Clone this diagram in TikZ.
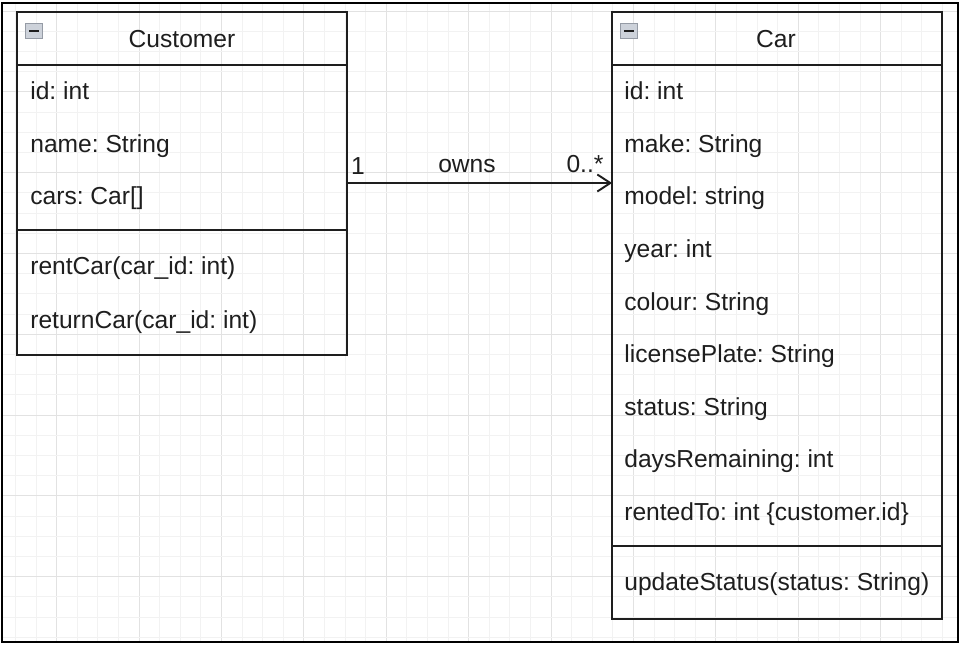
\documentclass[tikz,border=0pt]{standalone}
\usepackage{fontspec}
\setmainfont{Liberation Sans}
\usetikzlibrary{arrows.meta, positioning}
\frenchspacing

\definecolor{gridminor}{HTML}{F2F2F2}
\definecolor{gridmajor}{HTML}{E2E2E2}
\definecolor{ink}{HTML}{1E1E1E}
\definecolor{iconfill}{HTML}{CDD2DA}
\definecolor{iconline}{HTML}{959BA5}

\begin{document}
\begin{tikzpicture}[
        x=0.02cm, y=-0.02cm,
        box/.style={draw=ink, line width=2pt*0.57, inner sep=0pt, outer sep=0pt, minimum width=6.594cm},
        ttl/.style={anchor=base, font=\fontsize{14}{16}\selectfont, text=ink, inner sep=0pt},
        attr/.style={anchor=base west, font=\fontsize{14}{16}\selectfont, text=ink, inner sep=0pt},
        lbl/.style={anchor=base, font=\fontsize{14}{16}\selectfont, text=ink, inner sep=0pt},
        rel/.style={-{Straight Barb[length=2.6mm, width=3.4mm]}, draw=ink, line width=1.1pt},
        icon/.style={draw=iconline, fill=iconfill, line width=0.7pt, minimum width=0.35cm, minimum height=0.29cm, inner sep=0pt,
            path picture={\draw[ink, line width=1.4pt] ([xshift=2.4pt]path picture bounding box.west) -- ([xshift=-2.4pt]path picture bounding box.east);}}
    ]
    \useasboundingbox (0,0) rectangle (962,648);

    % grid
    \begin{scope}
        \clip (2,3) rectangle (958,642);
        \foreach \k in {0,...,45}{
            \pgfmathtruncatemacro{\m}{mod(\k+2,4)}
            \ifnum\m=0 \def\gc{gridmajor}\else\def\gc{gridminor}\fi
            \draw[\gc, line width=0.6pt] (15.5+20.6*\k,0) -- (15.5+20.6*\k,648);
        }
        \foreach \k in {-3,...,28}{
            \pgfmathtruncatemacro{\m}{mod(\k+40,4)}
            \ifnum\m=0 \def\gc{gridmajor}\else\def\gc{gridminor}\fi
            \draw[\gc, line width=0.6pt] (0,576.7-20.2*\k) -- (962,576.7-20.2*\k);
        }
    \end{scope}
    \draw[black, line width=1.2pt] (2,3) rectangle (958,642);

    % Customer
    \node[box, minimum height=6.854cm] (customer) at (182.2,183.6) {};
    \draw[ink, line width=1.1pt] (customer.west |- 0,65) -- (customer.east |- 0,65);
    \draw[ink, line width=1.1pt] (customer.west |- 0,230) -- (customer.east |- 0,230);
    \node[icon] (customer-min) at (34,31) {};
    \node[ttl] (customer-name) at (182,48) {Customer};
    \foreach \t [count=\i] in {id: int, name: String, cars: Car[]}
        \node[attr] (customer-a\i) at (30,100+52.5*\i-52.5) {\t};
    \node[attr] (customer-m1) at (30,275) {rentCar(car\_id: int)};
    \node[attr] (customer-m2) at (30,328) {returnCar(car\_id: int)};

    % Car
    \node[box, minimum height=12.134cm] (car) at (776.9,315.6) {};
    \draw[ink, line width=1.1pt] (car.west |- 0,65) -- (car.east |- 0,65);
    \draw[ink, line width=1.1pt] (car.west |- 0,546) -- (car.east |- 0,546);
    \node[icon] (car-min) at (629,31) {};
    \node[ttl] (car-name) at (776,48) {Car};
    \foreach \t [count=\i] in {id: int, make: String, model: string, year: int, colour: String,
            licensePlate: String, status: String, daysRemaining: int, {rentedTo: int \{customer.id\}}}
        \node[attr] (car-a\i) at (624,100+52.5*\i-52.5) {\t};
    \node[attr] (car-m1) at (624,590) {updateStatus(status: String)};

    % association
    \draw[rel] (customer.east |- 0,183) -- (car.west |- 0,183);
    \node[lbl] (mult-one) at (358,175) {1};
    \node[lbl] (owns) at (467,173) {owns};
    \node[lbl] (mult-many) at (585,173) {0..*};
\end{tikzpicture}
\end{document}
